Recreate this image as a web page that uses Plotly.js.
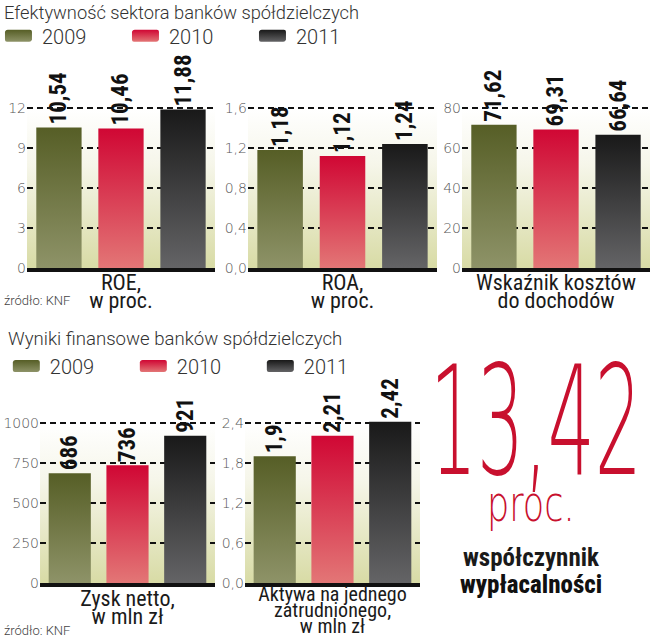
<!DOCTYPE html>
<html>
<head>
<meta charset="utf-8">
<script src="https://cdn.plot.ly/plotly-3.0.1.min.js"></script>
<style>
  html, body { margin: 0; padding: 0; background: #ffffff; }
  #chart { width: 655px; height: 640px; }
</style>
</head>
<body>
<div id="chart"></div>
<script>
// ---------- DATA ----------
const years = ['2009', '2010', '2011'];
const roe = [10.54, 10.46, 11.88];
const roa = [1.18, 1.12, 1.24];
const costToIncome = [71.62, 69.31, 66.64];
const netProfit = [686, 736, 921];
const assetsPerEmployee = [1.9, 2.21, 2.42];
const categoryLabels = [
  'ROE,<br>w proc.',
  'ROA,<br>w proc.',
  'Wskaźnik kosztów<br>do dochodów',
  'Zysk netto,<br>w mln zł',
  'Aktywa na jednego<br>zatrudnionego,<br>w mln zł'
];
const sectionTitles = ['Efektywność sektora banków spółdzielczych', 'Wyniki finansowe banków spółdzielczych'];
const sourceText = 'źródło: KNF';
const solvencyValue = '13,42';
const solvencyUnit = 'proc.';
const solvencyLabel = ['współczynnik', 'wypłacalności'];

// ---------- STYLE ----------
const yearColors = ['#6b7238', '#d83249', '#333436'];
const yearGradients = [['#565e26', '#8e9368'], ['#d00734', '#e37676'], ['#191919', '#646466']];
const LIGHT = 'Roboto, "Open Sans", sans-serif';
const NARROW = '"Roboto Condensed", "Liberation Sans Narrow", "Arial Narrow", sans-serif';
const TICK = '"DejaVu Sans", sans-serif';

const panels = [
  {values: roe, cat: categoryLabels[0], step: 3, top: 12, fmt: '', legend: 'legend', showlegend: true},
  {values: roa, cat: categoryLabels[1], step: 0.4, top: 1.6, fmt: '.1f', legend: 'legend', showlegend: false},
  {values: costToIncome, cat: categoryLabels[2], step: 20, top: 80, fmt: '', legend: 'legend', showlegend: false},
  {values: netProfit, cat: categoryLabels[3], step: 250, top: 1000, fmt: '', legend: 'legend2', showlegend: true},
  {values: assetsPerEmployee, cat: categoryLabels[4], step: 0.6, top: 2.4, fmt: '.1f', legend: 'legend2', showlegend: false}
];
// plot-area geometry (paper fractions) and scale factor of range vs. top gridline
const xDomains = [[0.0412, 0.3282], [0.3786, 0.6672], [0.7053, 0.9924], [0.0611, 0.3282], [0.3740, 0.6412]];
const yDomains = [[0.5813, 0.8906], [0.5813, 0.8906], [0.5813, 0.8906], [0.0891, 0.3828], [0.0891, 0.3828]];
const headroom = [198 / 160, 198 / 160, 198 / 160, 188 / 160, 188 / 160];
const catFontSize = [22, 22, 22, 22, 20];
const catStandoff = [-8, -8, -8, -7, -10];

const bgSrc = 'data:image/svg+xml;utf8,' + encodeURIComponent(
  '<svg xmlns="http://www.w3.org/2000/svg" width="10" height="100" viewBox="0 0 10 100" preserveAspectRatio="none">' +
  '<defs><linearGradient id="g" x1="0" y1="0" x2="0" y2="1">' +
  '<stop offset="0" stop-color="#ffffff"/><stop offset="0.35" stop-color="#f6f6ea"/><stop offset="1" stop-color="#d8dba5"/>' +
  '</linearGradient></defs><rect width="10" height="100" fill="url(#g)"/></svg>');

const data = [];
const layout = {
  width: 655, height: 640,
  margin: {l: 0, r: 0, t: 0, b: 0},
  paper_bgcolor: '#ffffff',
  plot_bgcolor: 'rgba(0,0,0,0)',
  barmode: 'group',
  bargap: 0.01,
  bargroupgap: 0.27,
  separators: ', ',
  showlegend: true,
  images: [],
  annotations: []
};

panels.forEach((p, i) => {
  const n = i === 0 ? '' : String(i + 1);
  years.forEach((yr, k) => {
    data.push({
      type: 'bar',
      name: yr,
      x: [p.cat],
      y: [p.values[k]],
      xaxis: 'x' + n,
      yaxis: 'y' + n,
      legend: p.legend,
      showlegend: p.showlegend,
      marker: {color: yearColors[k], line: {width: 0}},
      text: [String(p.values[k]).replace('.', ',')],
      textposition: 'outside',
      textangle: -90,
      constraintext: 'none',
      cliponaxis: false,
      textfont: {family: NARROW, size: 23, weight: 700, color: '#111111'},
      hoverinfo: 'skip'
    });
  });
  layout['xaxis' + n] = {
    domain: xDomains[i], anchor: 'y' + n, type: 'category',
    showgrid: false, showline: true, linewidth: 4, linecolor: '#111111',
    ticks: '', fixedrange: true, ticklabelstandoff: catStandoff[i],
    tickfont: {family: NARROW, size: catFontSize[i], color: '#1a1a1a'}
  };
  layout['yaxis' + n] = {
    domain: yDomains[i], anchor: 'x' + n,
    range: [0, p.top * headroom[i]], dtick: p.step, tick0: 0,
    tickformat: p.fmt,
    showgrid: true, gridcolor: '#111111', gridwidth: 1.6, griddash: '6px,4px',
    zeroline: false, showline: false, ticks: '', fixedrange: true,
    tickfont: {family: TICK, weight: 200, size: 14, color: '#555555'}
  };
  layout.images.push({
    source: bgSrc, xref: 'x' + n + ' domain', yref: 'y' + n + ' domain',
    x: 0, y: 0, xanchor: 'left', yanchor: 'bottom',
    sizex: 1, sizey: 1 / headroom[i], sizing: 'stretch', layer: 'below'
  });
});

const legendCommon = {
  orientation: 'h', xanchor: 'left', yanchor: 'middle',
  bgcolor: 'rgba(0,0,0,0)', borderwidth: 0,
  entrywidth: 82, entrywidthmode: 'pixels', itemwidth: 30,
  font: {family: LIGHT, weight: 300, size: 20, color: '#333333'}
};
layout.legend = Object.assign({}, legendCommon, {x: 0.003, y: 0.944});
layout.legend2 = Object.assign({}, legendCommon, {x: 0.015, y: 0.428});

const A = layout.annotations;
A.push({text: sectionTitles[0], xref: 'paper', yref: 'paper', x: 0.003, y: 0.980, xanchor: 'left', yanchor: 'middle', showarrow: false,
  font: {family: LIGHT, weight: 300, size: 18.3, color: '#333333'}});
A.push({text: sectionTitles[1], xref: 'paper', yref: 'paper', x: 0.009, y: 0.4703, xanchor: 'left', yanchor: 'middle', showarrow: false,
  font: {family: LIGHT, weight: 300, size: 18.6, color: '#333333'}});
A.push({text: sourceText, xref: 'paper', yref: 'paper', x: 0.003, y: 0.531, xanchor: 'left', yanchor: 'middle', showarrow: false,
  font: {family: LIGHT, weight: 300, size: 13, color: '#444444'}});
A.push({text: sourceText, xref: 'paper', yref: 'paper', x: 0.003, y: 0.0156, xanchor: 'left', yanchor: 'middle', showarrow: false,
  font: {family: LIGHT, weight: 300, size: 13, color: '#444444'}});
const bigIdx = A.length;
A.push({text: solvencyValue, xref: 'paper', yref: 'paper', x: 0.819, y: 0.342, xanchor: 'center', yanchor: 'middle', showarrow: false,
  font: {family: '"DejaVu Sans", sans-serif', weight: 200, size: 74, color: '#c8102e'}});
const unitIdx = A.length;
A.push({text: solvencyUnit, xref: 'paper', yref: 'paper', x: 0.811, y: 0.212, xanchor: 'center', yanchor: 'middle', showarrow: false,
  font: {family: '"DejaVu Sans", sans-serif', weight: 200, size: 35, color: '#c8102e'}});
A.push({text: solvencyLabel[0], xref: 'paper', yref: 'paper', x: 0.811, y: 0.129, xanchor: 'center', yanchor: 'middle', showarrow: false,
  font: {family: NARROW, weight: 700, size: 25, color: '#1a1a1a'}});
A.push({text: solvencyLabel[1], xref: 'paper', yref: 'paper', x: 0.811, y: 0.0875, xanchor: 'center', yanchor: 'middle', showarrow: false,
  font: {family: NARROW, weight: 800, size: 25, color: '#111111'}});

const gd = document.getElementById('chart');
const NS = 'http://www.w3.org/2000/svg';

function stretchText(idx, s) {
  const t = gd.querySelector('g.annotation[data-index="' + idx + '"] text.annotation-text');
  if (!t) return;
  const b = t.getBBox();
  const cy = b.y + b.height / 2;
  t.setAttribute('transform', 'translate(0,' + cy + ') scale(1,' + s + ') translate(0,' + (-cy) + ')');
}
function compressTickLines(factor) {
  gd.querySelectorAll('.xaxislayer-above text').forEach(t => {
    t.querySelectorAll('tspan.line').forEach((ln, i) => {
      if (i === 0) return;
      const dy = ln.getAttribute('dy');
      if (dy && /em$/.test(dy)) ln.setAttribute('dy', (parseFloat(dy) * factor) + 'em');
    });
  });
}
function applyGradients() {
  const svg = gd.querySelector('svg.main-svg');
  let defs = svg.querySelector('defs');
  if (!defs) { defs = document.createElementNS(NS, 'defs'); svg.insertBefore(defs, svg.firstChild); }
  yearGradients.forEach((g, k) => {
    const lg = document.createElementNS(NS, 'linearGradient');
    lg.setAttribute('id', 'yearGrad' + k);
    lg.setAttribute('x1', '0'); lg.setAttribute('y1', '0'); lg.setAttribute('x2', '0'); lg.setAttribute('y2', '1');
    [[0, g[0]], [1, g[1]]].forEach(([o, c]) => {
      const st = document.createElementNS(NS, 'stop');
      st.setAttribute('offset', o); st.setAttribute('stop-color', c);
      lg.appendChild(st);
    });
    defs.appendChild(lg);
  });
  gd.querySelectorAll('.barlayer .trace').forEach((tr, i) => {
    tr.querySelectorAll('.point path').forEach(p => { p.style.fill = 'url(#yearGrad' + (i % 3) + ')'; });
  });
  ['legend', 'legend2'].forEach(cls => {
    gd.querySelectorAll('g.' + cls + ' .traces').forEach((tr, i) => {
      tr.querySelectorAll('.legendpoints path').forEach(p => {
        p.setAttribute('d', 'M-14,-6H8A2,2 0 0 1 10,-4V4A3,3 0 0 1 7,6H-15A2,2 0 0 1 -17,4V-4A3,3 0 0 1 -14,-6Z');
        p.style.fill = 'url(#yearGrad' + (i % 3) + ')';
      });
    });
  });
}
Plotly.newPlot(gd, data, layout, {staticPlot: true, displayModeBar: false}).then(() => {
  stretchText(bigIdx, 2.05);
  stretchText(unitIdx, 1.4);
  compressTickLines(0.62);
  applyGradients();
});
</script>
</body>
</html>
